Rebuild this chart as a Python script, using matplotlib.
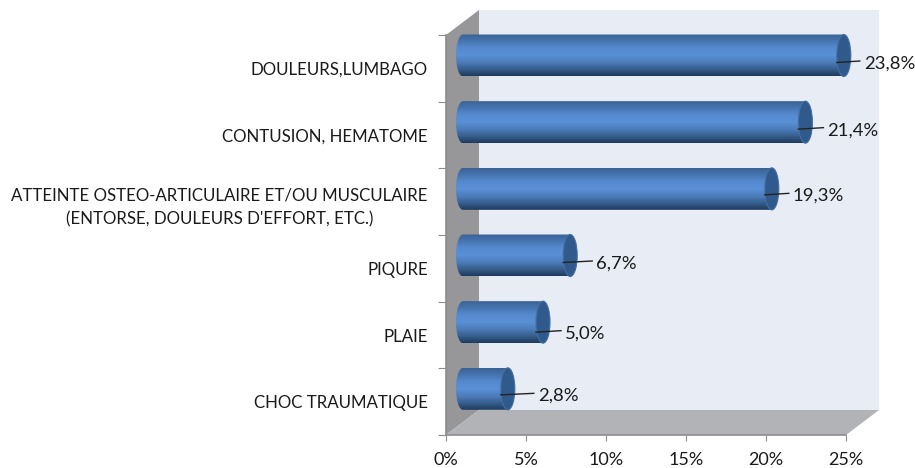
import numpy as np
import matplotlib
matplotlib.use('Agg')
import matplotlib.pyplot as plt
from matplotlib.patches import Ellipse, PathPatch, Polygon
from matplotlib.path import Path
from matplotlib.colors import LinearSegmentedColormap

categories = ['DOULEURS,LUMBAGO', 'CONTUSION, HEMATOME',
              "ATTEINTE OSTEO-ARTICULAIRE ET/OU MUSCULAIRE\n(ENTORSE, DOULEURS D'EFFORT, ETC.)",
              'PIQURE', 'PLAIE', 'CHOC TRAUMATIQUE']
values = [23.8, 21.4, 19.3, 6.7, 5.0, 2.8]
value_labels = ['23,8%', '21,4%', '19,3%', '6,7%', '5,0%', '2,8%']
x_ticks = [0, 5, 10, 15, 20, 25]
x_tick_labels = ['0%', '5%', '10%', '15%', '20%', '25%']

# where each value label sits relative to the bar end, in pixels
label_dx = [20, 22, 21, 26, 22, 30]
label_dy = [8, 8, 7, 8, 11, 7]

plt.rcParams['font.family'] = ['Lato', 'DejaVu Sans']
TEXT = '#1a1a1a'

fig = plt.figure(figsize=(9.15, 4.68), dpi=100)
ax = fig.add_axes([446 / 915, 33 / 468, 400 / 915, 400 / 468])

px_x = 1 / 16       # one pixel in data units
px_y = 1 / 66.67

# depth of the fake 3d box
dx = 33 * px_x
dy = 25 * px_y

ax.add_patch(Polygon([(dx, -dy), (25 + dx, -dy), (25 + dx, 6 - dy), (dx, 6 - dy)],
                     fc='#e8ecf5', ec='none', zorder=1, clip_on=False))
ax.add_patch(Polygon([(0, 0), (dx, -dy), (dx, 6 - dy), (0, 6)],
                     fc='#979799', ec='none', zorder=2, clip_on=False))
ax.add_patch(Polygon([(0, 6), (25, 6), (25 + dx, 6 - dy), (dx, 6 - dy)],
                     fc='#b1b3b6', ec='none', zorder=2, clip_on=False))

cyl = LinearSegmentedColormap.from_list('cyl', ['#3a6296', '#4776b2', '#568ad0', '#5a90d6',
                                                '#4d7dbb', '#38608f', '#1f3b5e'])
grad = np.linspace(0, 1, 64).reshape(-1, 1)

x0 = 17 * px_x      # centre of the cylinder base
rx = 7 * px_x
ry = 21 * px_y
t = np.linspace(-np.pi / 2, np.pi / 2, 40)

for i, v in enumerate(values):
    yc = i + 20.5 * px_y
    xe = x0 + v
    # outline of the cylinder side
    right = np.column_stack([xe + rx * np.cos(t), yc + ry * np.sin(t)])
    left = np.column_stack([x0 - rx * np.cos(t[::-1]), yc + ry * np.sin(t[::-1])])
    verts = np.vstack([right, left, right[:1]])
    clip = PathPatch(Path(verts), transform=ax.transData, fc='none', ec='none')
    ax.add_patch(clip)
    im = ax.imshow(grad, cmap=cyl, aspect='auto', zorder=3,
                   extent=(x0 - rx, xe + rx, yc + ry, yc - ry))
    im.set_clip_path(clip)
    im.set_clip_box(fig.bbox)   # otherwise the image stops at the axes edge
    ax.add_patch(Ellipse((xe, yc), 2 * rx, 2 * ry, fc='#30598c', ec='#44709f', lw=0.8,
                         zorder=4, clip_on=False))

    # leader line + value
    lab_x = xe + label_dx[i] * px_x
    ly = yc + label_dy[i] * px_y
    ax.plot([xe - 7 * px_x, lab_x - 4 * px_x], [ly - 1 * px_y, ly - 2.5 * px_y], color='#222222',
            lw=1, zorder=5, clip_on=False)
    ax.text(lab_x, ly, value_labels[i], ha='left', va='center', fontsize=13.3, color=TEXT,
            zorder=5, clip_on=False)

ax.set_xlim(0, 25)
ax.set_ylim(6, 0)

for s in ['top', 'right']:
    ax.spines[s].set_visible(False)
for s in ['left', 'bottom']:
    ax.spines[s].set_color('#8c8c8c')
    ax.spines[s].set_linewidth(1.2)
    ax.spines[s].set_zorder(2.5)

ax.set_xticks(x_ticks)
ax.set_xticklabels(x_tick_labels, fontsize=13, color=TEXT)
ax.set_yticks(range(7))
ax.set_yticklabels([])
ax.set_yticks(np.arange(6) + 0.5, minor=True)
ax.set_yticklabels(categories, minor=True, fontsize=12.15, color=TEXT, multialignment='center',
                   linespacing=1.6)
ax.tick_params(axis='x', length=4.5, color='#8c8c8c', pad=8)
ax.tick_params(axis='y', which='major', length=6, color='#8c8c8c')
ax.tick_params(axis='y', which='minor', length=0, pad=13)

fig.savefig('out.png', dpi=100)
